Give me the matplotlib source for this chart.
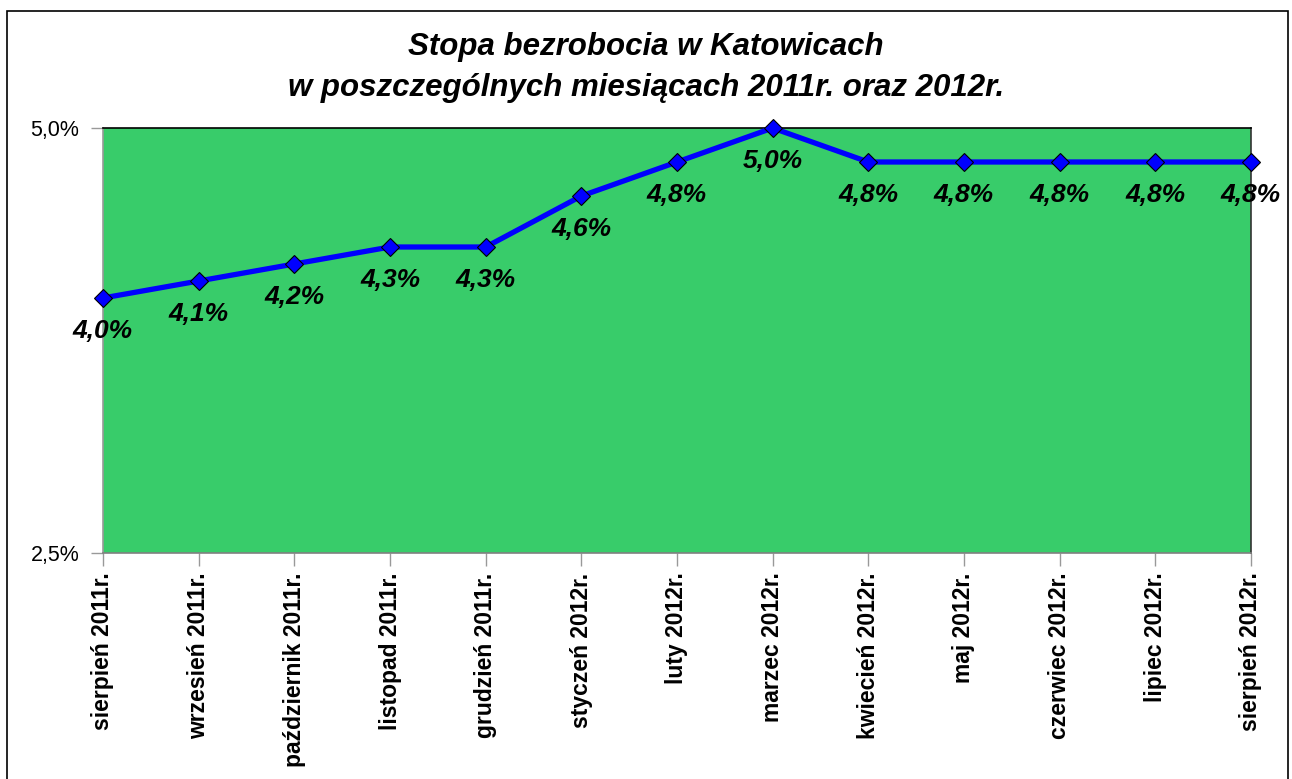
import matplotlib.pyplot as plt
from matplotlib.patches import Rectangle

# months and unemployment rate (%)
months = ['sierpień 2011r.', 'wrzesień 2011r.', 'październik 2011r.', 'listopad 2011r.',
          'grudzień 2011r.', 'styczeń 2012r.', 'luty 2012r.', 'marzec 2012r.',
          'kwiecień 2012r.', 'maj 2012r.', 'czerwiec 2012r.', 'lipiec 2012r.',
          'sierpień 2012r.']
rate = [4.0, 4.1, 4.2, 4.3, 4.3, 4.6, 4.8, 5.0, 4.8, 4.8, 4.8, 4.8, 4.8]
y_ticks = [2.5, 5.0]
y_tick_labels = ['2,5%', '5,0%']

plt.rcParams['font.family'] = ['Liberation Sans', 'DejaVu Sans']

fig = plt.figure(figsize=(12.92, 7.79), dpi=100)
ax = fig.add_axes([103 / 1292, 1 - 553 / 779, 1148 / 1292, 425 / 779])

# outer chart frame
fig.patches.append(Rectangle((7 / 1292, -0.05), 1281 / 1292, 1.05 - 11 / 779,
                             transform=fig.transFigure, fill=False,
                             edgecolor='black', linewidth=1.2))

ax.set_facecolor('#38cc6a')
x = list(range(len(months)))
ax.plot(x, rate, color='#0000ff', linewidth=3.8, marker='D', markersize=9,
        markerfacecolor='#0000ff', markeredgecolor='black', markeredgewidth=0.8,
        clip_on=False, zorder=3)

for xi, v in zip(x, rate):
    ax.annotate(('%.1f%%' % v).replace('.', ','), (xi, v), xytext=(0, -33),
                textcoords='offset pixels', ha='center', va='center',
                fontsize=19, fontweight='bold', fontstyle='italic',
                annotation_clip=False, zorder=4)

ax.set_xlim(0, len(months) - 1)
ax.set_ylim(2.5, 5.0)
ax.set_yticks(y_ticks)
ax.set_yticklabels(y_tick_labels, fontsize=15.5)
ax.set_xticks(x)
ax.set_xticklabels(months, rotation=90, fontsize=16.5, fontweight='bold')
ax.tick_params(axis='x', direction='out', length=9, width=1, color='#999999', pad=5)
ax.tick_params(axis='y', direction='out', length=9, width=1, color='#999999', pad=8)

ax.spines['left'].set_color('#999999')
ax.spines['bottom'].set_color('#808080')
ax.spines['top'].set_color('black')
ax.spines['right'].set_color('#333333')
for s in ax.spines.values():
    s.set_linewidth(1.2)

fig.text(0.5, 1 - 47 / 779, 'Stopa bezrobocia w Katowicach', ha='center', va='center',
         fontsize=22.5, fontweight='bold', fontstyle='italic')
fig.text(0.5, 1 - 88 / 779, 'w poszczególnych miesiącach 2011r. oraz 2012r.',
         ha='center', va='center', fontsize=22.5, fontweight='bold', fontstyle='italic')

fig.savefig('out.png', dpi=100)
